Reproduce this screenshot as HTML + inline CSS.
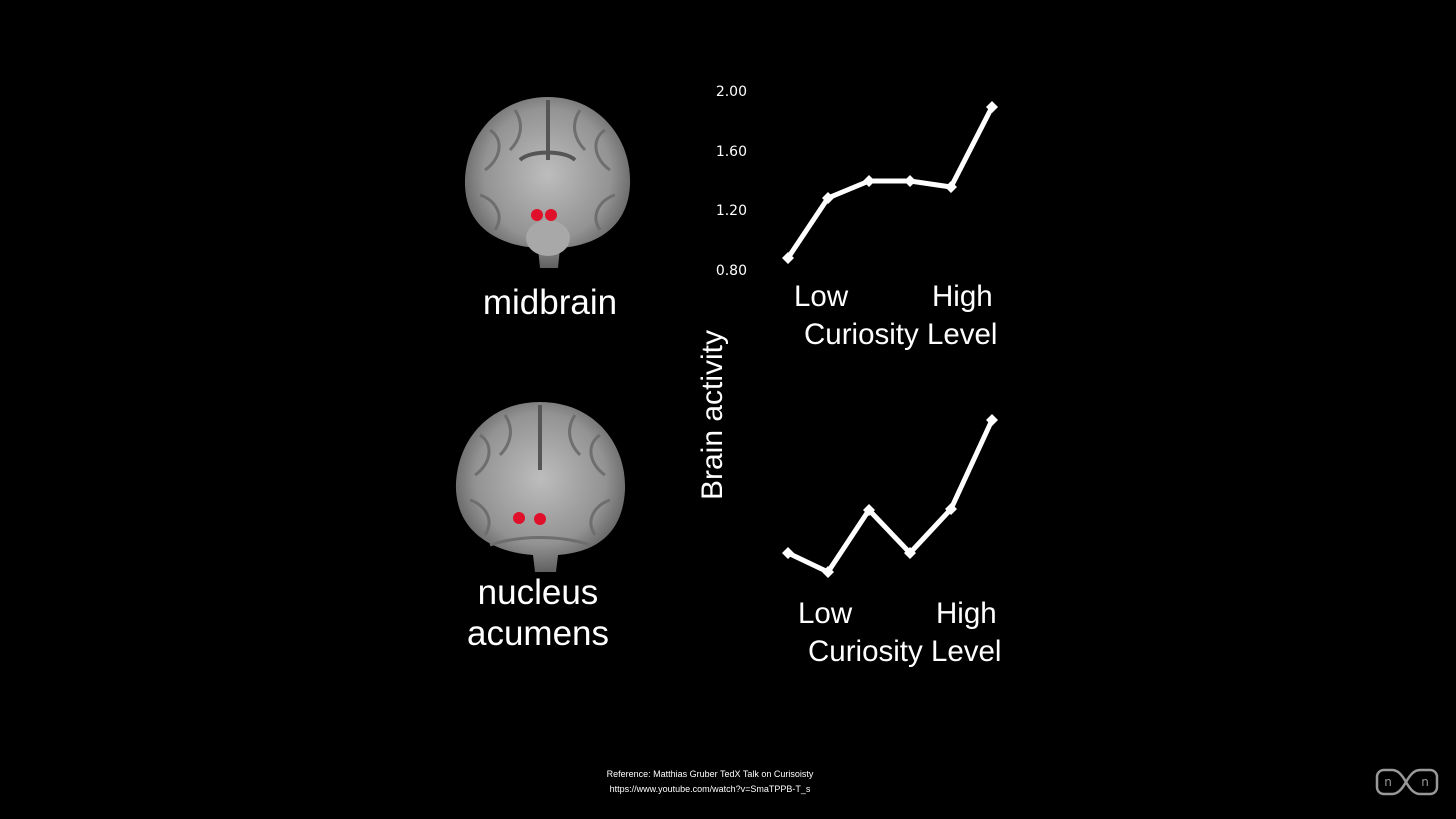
<!DOCTYPE html>
<html><head><meta charset="utf-8"><style>
html,body{margin:0;padding:0;background:#000;width:1456px;height:819px;overflow:hidden}
svg{display:block}
</style></head><body>
<svg width="1456" height="819" viewBox="0 0 1456 819" xmlns="http://www.w3.org/2000/svg" font-family="Liberation Sans, sans-serif">
<defs>
<radialGradient id="bg" cx="50%" cy="45%" r="55%">
<stop offset="0" stop-color="#bdbdbd"/><stop offset="0.7" stop-color="#939393"/><stop offset="1" stop-color="#606060"/>
</radialGradient>
</defs>
<g>
<path d="M548,97 C600,97 632,140 630,185 C628,225 600,245 560,248 L558,268 L540,268 L538,248 C495,245 466,225 465,185 C464,140 495,97 548,97 Z" fill="url(#bg)"/>
<path d="M548,100 L548,160 M520,160 C530,150 565,150 575,160" stroke="#555" stroke-width="4" fill="none"/>
<g stroke="#6e6e6e" stroke-width="3" fill="none">
<path d="M490,130 C505,140 500,160 485,170"/><path d="M605,130 C590,140 595,160 610,170"/>
<path d="M480,195 C495,200 505,215 495,230"/><path d="M615,195 C600,200 590,215 600,230"/>
<path d="M515,110 C525,125 520,140 510,150"/><path d="M580,110 C570,125 575,140 585,150"/>
</g>
<ellipse cx="548" cy="238" rx="22" ry="18" fill="#a8a8a8"/>
<circle cx="537" cy="215" r="6" fill="#e0102a"/><circle cx="551" cy="215" r="6" fill="#e0102a"/>
</g>
<g>
<path d="M540,402 C595,402 627,445 625,490 C623,530 600,552 558,555 L556,572 L535,572 L533,555 C490,552 458,530 456,490 C455,445 485,402 540,402 Z" fill="url(#bg)"/>
<path d="M540,405 L540,470" stroke="#555" stroke-width="4" fill="none"/>
<g stroke="#6e6e6e" stroke-width="3" fill="none">
<path d="M480,435 C495,445 490,465 475,475"/><path d="M600,435 C585,445 590,465 605,475"/>
<path d="M470,500 C485,505 495,520 485,535"/><path d="M610,500 C595,505 585,520 595,535"/>
<path d="M505,415 C515,430 510,445 500,455"/><path d="M575,415 C565,430 570,445 580,455"/>
<path d="M490,545 C520,535 560,535 590,545"/>
</g>
<circle cx="519" cy="518" r="6" fill="#e0102a"/><circle cx="540" cy="519" r="6" fill="#e0102a"/>
</g>
<g fill="#fff">
<text x="550" y="314" text-anchor="middle" font-size="35">midbrain</text>
<text x="538" y="604" text-anchor="middle" font-size="35">nucleus</text>
<text x="538" y="645" text-anchor="middle" font-size="35">acumens</text>
<text transform="translate(722,415) rotate(-90)" text-anchor="middle" font-size="30">Brain activity</text>
<text x="794" y="306" font-size="29.5">Low</text><text x="932" y="306" font-size="29.5">High</text>
<text x="804" y="344" font-size="29.5">Curiosity Level</text>
<text x="798" y="623" font-size="29.5">Low</text><text x="936" y="623" font-size="29.5">High</text>
<text x="808" y="661" font-size="29.5">Curiosity Level</text>
</g>
<g fill="#fff" font-size="14" font-family="DejaVu Sans, sans-serif">
<text x="747" y="96" text-anchor="end">2.00</text>
<text x="747" y="156" text-anchor="end">1.60</text>
<text x="747" y="215" text-anchor="end">1.20</text>
<text x="747" y="275" text-anchor="end">0.80</text>
</g>
<g stroke="#fff" stroke-width="5" fill="none" stroke-linejoin="round">
<polyline points="788,258 828,198 869,181 910,181 951,187 992,107"/>
<polyline points="788,553 828,572 869,510 910,553 951,509 992,420"/>
</g>
<g fill="#fff">
<path d="M788,252l6,6l-6,6l-6,-6z M828,192l6,6l-6,6l-6,-6z M869,175l6,6l-6,6l-6,-6z M910,175l6,6l-6,6l-6,-6z M951,181l6,6l-6,6l-6,-6z M992,101l6,6l-6,6l-6,-6z"/>
<path d="M788,547l6,6l-6,6l-6,-6z M828,566l6,6l-6,6l-6,-6z M869,504l6,6l-6,6l-6,-6z M910,547l6,6l-6,6l-6,-6z M951,503l6,6l-6,6l-6,-6z M992,414l6,6l-6,6l-6,-6z"/>
</g>
<g fill="#fff" font-size="9" font-family="Liberation Sans, sans-serif" text-anchor="middle">
<text x="710" y="777">Reference: Matthias Gruber TedX Talk on Curisoisty</text>
<text x="710" y="792">https://www.youtube.com/watch?v=SmaTPPB-T_s</text>
</g>
<g stroke="#999" stroke-width="2.5" fill="none">
<path d="M1384,770 H1392 C1398,770 1402,775 1406,782 C1410,789 1414,794 1420,794 H1430 C1434,794 1437,791 1437,787 V777 C1437,773 1434,770 1430,770 H1420 C1414,770 1410,775 1406,782 C1402,789 1398,794 1392,794 H1384 C1380,794 1377,791 1377,787 V777 C1377,773 1380,770 1384,770 Z"/>
</g>
<g fill="#999" font-size="12" font-family="DejaVu Sans, sans-serif" text-anchor="middle">
<text x="1388" y="786">n</text><text x="1425" y="786">n</text>
</g>
</svg>
</body></html>
